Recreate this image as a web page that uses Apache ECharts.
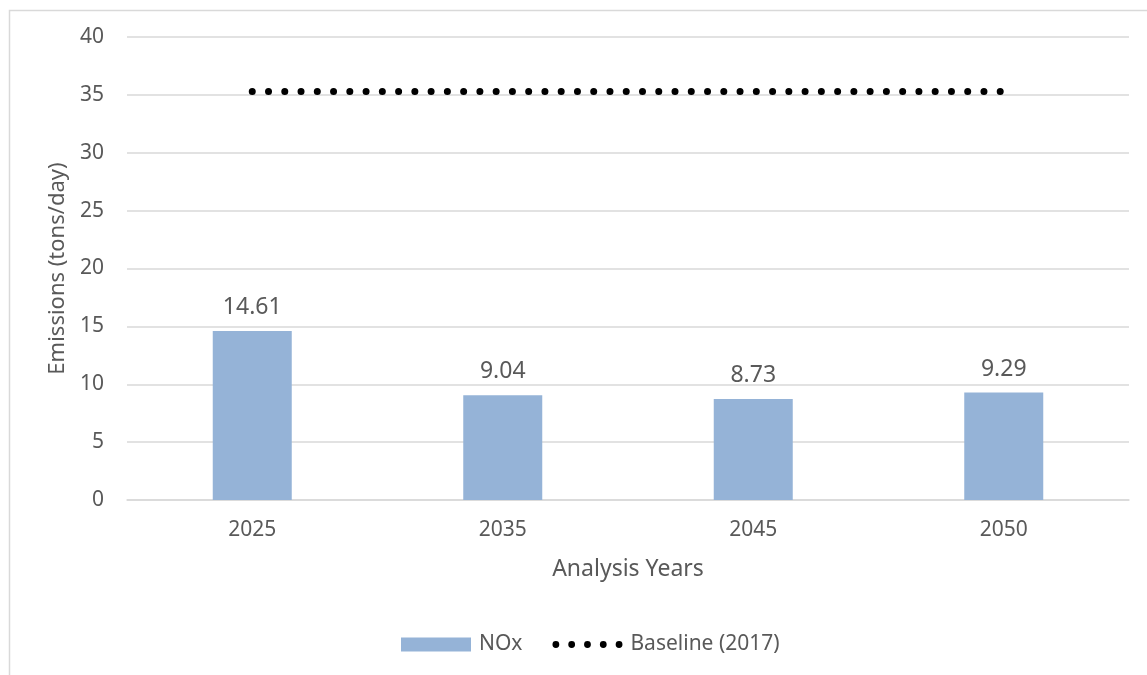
<!DOCTYPE html>
<html>
<head>
<meta charset="utf-8">
<script src="https://cdn.jsdelivr.net/npm/echarts@6/dist/echarts.min.js"></script>
<style>
html,body{margin:0;padding:0;background:#fff;}
#chart{width:1147px;height:675px;}
</style>
</head>
<body>
<div id="chart"></div>
<script>
const categories = ['2025', '2035', '2045', '2050'];
const noxValues = [14.61, 9.04, 8.73, 9.29];
const baselineValues = [35.3, 35.3, 35.3, 35.3];
const yTicks = { min: 0, max: 40, interval: 5 };
const seriesNames = ['NOx', 'Baseline (2017)'];
const axisTitles = { x: 'Analysis Years', y: 'Emissions (tons/day)' };

const textColor = '#595959';
const font = 'Noto Sans';

// legend icon: five round dots in a row
let dotsPath = 'path://';
for (let i = 0; i < 5; i++) {
  const cx = 3.5 + i * 16.25;
  dotsPath += 'M' + (cx - 3.5) + ',3.5 a3.5,3.5 0 1,0 7,0 a3.5,3.5 0 1,0 -7,0 Z ';
}

const chart = echarts.init(document.getElementById('chart'), null, { renderer: 'canvas' });
chart.setOption({
  animation: false,
  backgroundColor: '#ffffff',
  textStyle: { fontFamily: font, color: textColor },
  graphic: [{
    type: 'rect',
    left: 7, top: 8,
    shape: { x: 0, y: 0, width: 1200, height: 700 },
    style: { fill: 'none', stroke: '#d9d9d9', lineWidth: 1.5 },
    silent: true,
    z: -10
  }],
  grid: { left: 127, right: 18, top: 37, bottom: 175, containLabel: false },
  legend: {
    left: 401, top: 634, padding: 0,
    itemWidth: 70, itemHeight: 14, itemGap: 30,
    textStyle: { fontFamily: font, fontSize: 21, color: textColor, padding: [0, 0, 0, 3] },
    data: [
      { name: seriesNames[0], icon: 'rect', itemStyle: { color: '#95b3d7' } },
      { name: seriesNames[1], icon: dotsPath, itemStyle: { color: '#000000', borderWidth: 0 } }
    ]
  },
  xAxis: {
    type: 'category',
    data: categories,
    name: axisTitles.x,
    nameLocation: 'middle',
    nameGap: 58,
    nameTextStyle: { fontFamily: font, fontSize: 23, color: textColor },
    axisLine: { show: true, lineStyle: { color: '#d9d9d9', width: 1.5 } },
    axisTick: { show: false },
    axisLabel: { fontFamily: font, fontSize: 21, color: textColor, margin: 20 }
  },
  yAxis: {
    type: 'value',
    min: yTicks.min, max: yTicks.max, interval: yTicks.interval,
    name: axisTitles.y,
    nameLocation: 'middle',
    nameGap: 58,
    nameTextStyle: { fontFamily: font, fontSize: 22, color: textColor },
    axisLine: { show: false },
    axisTick: { show: false },
    axisLabel: { fontFamily: font, fontSize: 21, color: textColor, margin: 23 },
    splitLine: { lineStyle: { color: '#d9d9d9', width: 1.5 } }
  },
  series: [
    {
      name: seriesNames[0],
      type: 'bar',
      data: noxValues,
      barWidth: 79,
      itemStyle: { color: '#95b3d7' },
      label: {
        show: true, position: 'top', distance: 12,
        fontFamily: font, fontSize: 23, color: textColor,
        formatter: p => p.value.toFixed(2)
      }
    },
    {
      name: seriesNames[1],
      type: 'line',
      data: baselineValues,
      symbol: 'none',
      showSymbol: false,
      lineStyle: { color: '#000000', width: 7, type: [0.01, 16.25], cap: 'round' },
      itemStyle: { color: '#000000' },
      z: 5
    }
  ]
});
</script>
</body>
</html>
